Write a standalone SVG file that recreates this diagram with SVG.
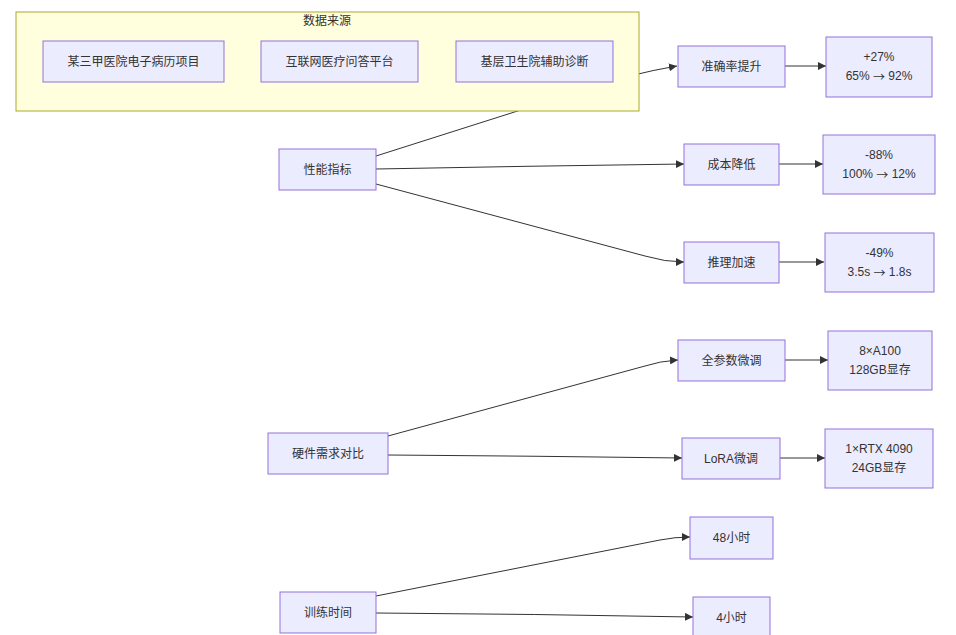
<svg xmlns="http://www.w3.org/2000/svg" width="956" height="635" viewBox="0 0 956 635">
<defs>
<marker id="arr" viewBox="0 0 10 10" refX="10" refY="5" markerWidth="8" markerHeight="8" markerUnits="userSpaceOnUse" orient="auto">
<path d="M0,0 L10,5 L0,10 z" fill="#333"/>
</marker>
<style>
.node rect{fill:#ECECFF;stroke:#9370DB;stroke-width:1}
text{font-family:"Liberation Sans","Noto Sans CJK SC",sans-serif;font-size:12px;fill:#333;text-anchor:middle;dominant-baseline:central}
.ar{font-family:"Noto Sans CJK SC",sans-serif}
.edge{fill:none;stroke:#333;stroke-width:1;marker-end:url(#arr)}
</style>
</defs>
<rect width="956" height="635" fill="#fff"/>
<g id="connectors">
<path class="edge" d="M376,156 L590,88 Q630,74 677,66"/>
<path class="edge" d="M376,169 Q530,166 684,164"/>
<path class="edge" d="M376,184 L645,256 Q665,262 684,262"/>
<path class="edge" d="M785,66 L826,66"/>
<path class="edge" d="M779,164 L823,164"/>
<path class="edge" d="M779,262 L824,262"/>
<path class="edge" d="M388,436 L645,366 Q660,361 678,360"/>
<path class="edge" d="M388,455 Q535,456 682,458"/>
<path class="edge" d="M785,360 L828,360"/>
<path class="edge" d="M780,458 L825,458"/>
<path class="edge" d="M376,596 L660,540 Q675,537 690,537"/>
<path class="edge" d="M376,613 Q535,614 693,617"/>
</g>
<g id="cluster-datasource">
<rect x="16" y="12" width="623" height="99" fill="#ffffde" stroke="#aaaa33" stroke-width="1"/>
<text x="327" y="21">数据来源</text>
</g>
<g id="n-hospital" class="node"><rect x="43" y="41" width="181" height="41"/><text x="133.5" y="61.5">某三甲医院电子病历项目</text></g>
<g id="n-internet" class="node"><rect x="261" y="41" width="157" height="41"/><text x="339.5" y="61.5">互联网医疗问答平台</text></g>
<g id="n-primary" class="node"><rect x="456" y="41" width="157" height="41"/><text x="534.5" y="61.5">基层卫生院辅助诊断</text></g>
<g id="n-perf" class="node"><rect x="279" y="149" width="97" height="41"/><text x="327.5" y="169.5">性能指标</text></g>
<g id="n-acc" class="node"><rect x="678" y="46" width="107" height="41"/><text x="731.5" y="66.5">准确率提升</text></g>
<g id="n-acc-v" class="node"><rect x="826" y="37" width="106" height="60"/><text x="879" y="57">+27%</text><text x="879" y="76">65% <tspan class="ar">→</tspan> 92%</text></g>
<g id="n-cost" class="node"><rect x="684" y="144" width="95" height="41"/><text x="731.5" y="164.5">成本降低</text></g>
<g id="n-cost-v" class="node"><rect x="823" y="135" width="112" height="59"/><text x="879" y="155">-88%</text><text x="879" y="174">100% <tspan class="ar">→</tspan> 12%</text></g>
<g id="n-speed" class="node"><rect x="684" y="242" width="95" height="41"/><text x="731.5" y="262.5">推理加速</text></g>
<g id="n-speed-v" class="node"><rect x="825" y="233" width="109" height="59"/><text x="879.5" y="253">-49%</text><text x="879.5" y="272">3.5s <tspan class="ar">→</tspan> 1.8s</text></g>
<g id="n-full" class="node"><rect x="678" y="340" width="107" height="41"/><text x="731.5" y="360.5">全参数微调</text></g>
<g id="n-full-v" class="node"><rect x="828" y="331" width="104" height="59"/><text x="880" y="351">8×A100</text><text x="880" y="370">128GB显存</text></g>
<g id="n-hw" class="node"><rect x="268" y="433" width="120" height="41"/><text x="328" y="453.5">硬件需求对比</text></g>
<g id="n-lora" class="node"><rect x="682" y="438" width="98" height="41"/><text x="731" y="458.5">LoRA微调</text></g>
<g id="n-lora-v" class="node"><rect x="825" y="429" width="108" height="59"/><text x="879" y="449">1×RTX 4090</text><text x="879" y="468">24GB显存</text></g>
<g id="n-time" class="node"><rect x="280" y="592" width="96" height="41"/><text x="328" y="612.5">训练时间</text></g>
<g id="n-48h" class="node"><rect x="690" y="517" width="83" height="42"/><text x="731.5" y="537.5">48小时</text></g>
<g id="n-4h" class="node"><rect x="693" y="597" width="77" height="42"/><text x="731.5" y="617.5">4小时</text></g>
</svg>
